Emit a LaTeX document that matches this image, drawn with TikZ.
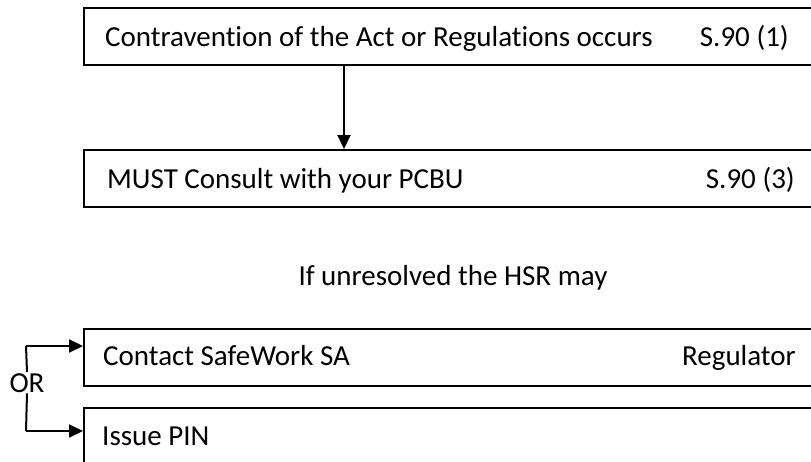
\documentclass[tikz,border=0pt]{standalone}
\usepackage{fontspec}
\setmainfont[Ligatures=NoCommon,RawFeature={-liga;-dlig}]{Carlito}
\usetikzlibrary{arrows.meta}
\begin{document}
\begin{tikzpicture}[x=1pt,y=-1pt,
  box/.style={draw=black,line width=1.6pt,rectangle,minimum width=760pt,anchor=north west,inner sep=0pt},
  txt/.style={anchor=base west,inner sep=0pt,font=\fontsize{29}{34}\selectfont},
  rtxt/.style={anchor=base east,inner sep=0pt,font=\fontsize{29}{34}\selectfont},
  arr/.style={line width=2pt,-{Triangle[length=14pt,width=13pt]}}]
\useasboundingbox (0,0) rectangle (811,461);
\clip (0,0) rectangle (811,461);
\node[box,minimum height=57pt] (b1) at (83,7) {};
\node[box,minimum height=57pt] (b2) at (83,149) {};
\node[box,minimum height=57pt] (b3) at (83,328) {};
\node[box,minimum height=70pt] (b4) at (83,407) {};
\node[txt] (t1) at (105,46.5) {Contravention of the Act or Regulations occurs};
\node[rtxt] (r1) at (789,46.5) {S.90 (1)};
\node[txt] (t2) at (107,188.5) {MUST Consult with your PCBU};
\node[rtxt] (r2) at (795,188.5) {S.90 (3)};
\node[anchor=base,inner sep=0pt,font=\fontsize{29}{34}\selectfont] (mid) at (453,285) {If unresolved the HSR may};
\node[txt] (t3) at (103,365) {Contact SafeWork SA};
\node[rtxt] (r3) at (796,365) {Regulator};
\node[txt] (t4) at (102,445) {Issue PIN};
\node[anchor=base,inner sep=1pt,font=\fontsize{29}{34}\selectfont] (or) at (27,392) {OR};
\coordinate (ca) at (26,346);
\coordinate (cb) at (26,431);
\draw[line width=2pt] (or.north) -- (ca);
\draw[line width=2pt] (or.south) -- (cb);
\draw[arr] (ca) -- (ca -| b3.west);
\draw[arr] (cb) -- (cb -| b4.west);
\draw[arr] ([xshift=261pt]b1.south west) -- ([xshift=261pt]b2.north west);
\end{tikzpicture}
\end{document}
